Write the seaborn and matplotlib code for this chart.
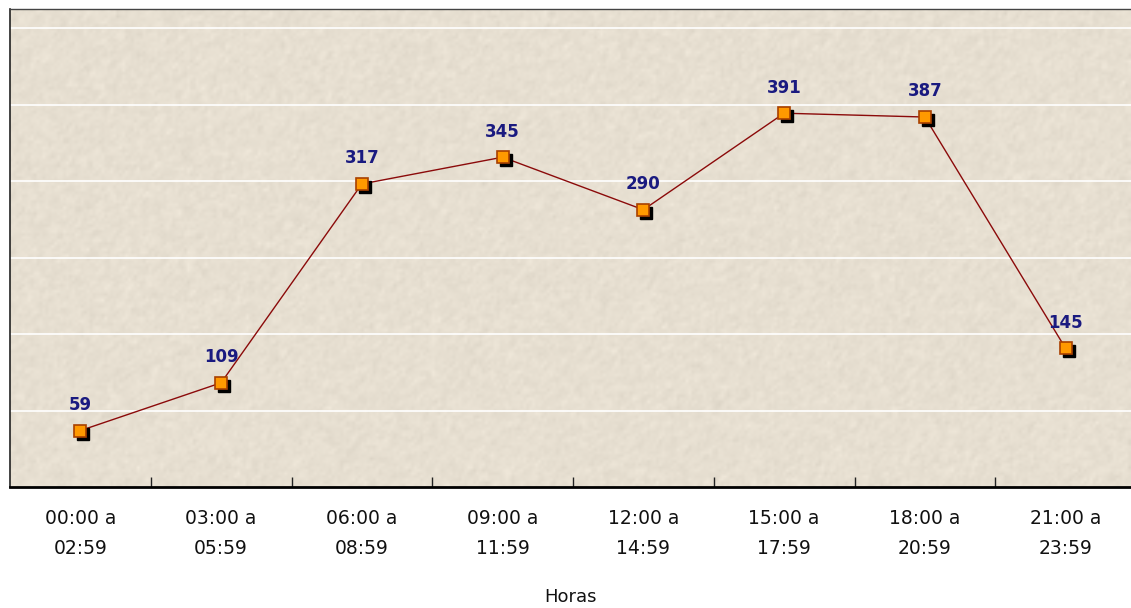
import numpy as np
import pandas as pd
import matplotlib
matplotlib.use("Agg")
import matplotlib.pyplot as plt
import matplotlib.transforms as mtransforms
import seaborn as sns

sns.set_theme(style="white")
plt.rcParams['font.family'] = ['DejaVu Sans']

horas = ['00:00 a\n02:59', '03:00 a\n05:59', '06:00 a\n08:59', '09:00 a\n11:59',
         '12:00 a\n14:59', '15:00 a\n17:59', '18:00 a\n20:59', '21:00 a\n23:59']
valores = [59, 109, 317, 345, 290, 391, 387, 145]
df = pd.DataFrame({'pos': np.arange(len(horas)), 'valor': valores})

fig = plt.figure(figsize=(11.31, 6.08), dpi=100)
ax = fig.add_axes([10 / 1131, 121 / 608, 1121 / 1131, 478 / 608])

# fondo tipo piedra
rng = np.random.default_rng(3)
tex = rng.normal(0, 1, (160, 380))
tex = (tex + np.roll(tex, 1, 0) + np.roll(tex, 1, 1)) / 3
base = np.array([0.905, 0.875, 0.82])
img = np.clip(base[None, None, :] + tex[..., None] * 0.018, 0, 1)
ax.imshow(img, extent=[0, 1, 0, 1], transform=ax.transAxes, aspect='auto',
          interpolation='bilinear', zorder=0)

ax.set_ylim(0, 500)
ax.set_xlim(-0.5, 7.5 - 5 / 140.75)
ax.set_yticks(np.arange(80, 500, 80))
ax.yaxis.grid(True, color='white', linewidth=1.2, zorder=1)
ax.set_axisbelow(True)
ax.tick_params(axis='y', left=False, labelleft=False)

sns.lineplot(data=df, x='pos', y='valor', ax=ax, color='#8B0A0A', linewidth=1.0, zorder=3)

sombra = mtransforms.offset_copy(ax.transData, fig=fig, x=3, y=-3, units='dots')
ax.plot(df['pos'], df['valor'], linestyle='none', marker='s', markersize=8.5,
        color='black', transform=sombra, zorder=4)
ax.plot(df['pos'], df['valor'], linestyle='none', marker='s', markersize=8.5,
        markerfacecolor='#FF9900', markeredgecolor='#A84000', markeredgewidth=1.2, zorder=5)

for x, v in zip(df['pos'], df['valor']):
    ax.annotate(str(v), (x, v), xytext=(0, 12), textcoords='offset points',
                ha='center', va='bottom', fontsize=12, fontweight='bold',
                color='#1A1A80', zorder=6)

ax.set_xticks(df['pos'])
ax.set_xticklabels(horas, fontsize=13.5, linespacing=1.7)
ax.tick_params(axis='x', which='major', bottom=True, length=0, pad=16, colors='#111111')
ax.set_xticks(np.arange(0.5, 7, 1), minor=True)
ax.tick_params(axis='x', which='minor', bottom=True, direction='in', length=7, width=1,
               color='#222222')
ax.set_xlabel('Horas', fontsize=13, labelpad=22, color='#111111')
ax.set_ylabel('')

for s in ['left', 'bottom', 'top']:
    ax.spines[s].set_visible(True)
ax.spines['left'].set_color('#222222')
ax.spines['left'].set_linewidth(1.2)
ax.spines['top'].set_color('#444444')
ax.spines['top'].set_linewidth(1.0)
ax.spines['bottom'].set_color('black')
ax.spines['bottom'].set_linewidth(2)
ax.spines['right'].set_visible(False)

fig.savefig('out.png', dpi=100)
